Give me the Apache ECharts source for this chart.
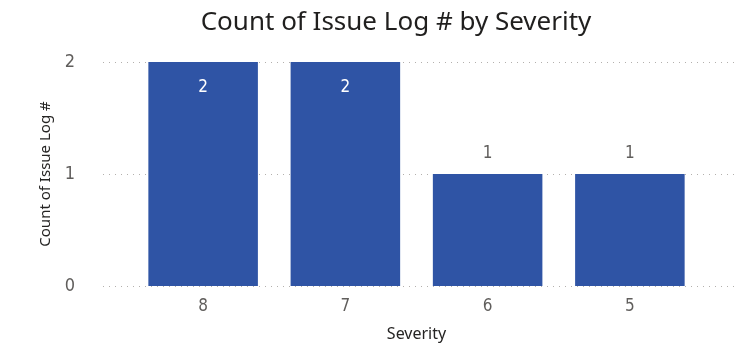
<!DOCTYPE html>
<html>
<head>
<meta charset="utf-8">
<script src="https://cdn.jsdelivr.net/npm/echarts@6/dist/echarts.min.js"></script>
<style>
  html, body { margin: 0; padding: 0; background: #fff; }
  #main { width: 744px; height: 347px; }
</style>
</head>
<body>
<div id="main"></div>
<script>
// severity categories and counts
var severities = ['8', '7', '6', '5'];
var counts = [2, 2, 1, 1];
var yTicks = [0, 1, 2];

var barColor = '#2F54A5';
var labelFont = '"Liberation Sans Narrow", "DejaVu Sans Condensed", sans-serif';
var textFont = '"Segoe UI", "Noto Sans", sans-serif';

var myChart = echarts.init(document.getElementById('main'));

// big bars get the label inside, small ones above (like Power BI auto)
var barData = counts.map(function (v) {
    if (v >= 2) {
        return {value: v, label: {position: 'insideTop', distance: 17, color: '#ffffff'}};
    }
    return {value: v, label: {position: 'top', distance: 12, color: '#605E5C'}};
});

var option = {
    animation: false,
    title: {
        text: 'Count of Issue Log # by Severity',
        left: 391,
        textAlign: 'center',
        top: 5,
        textStyle: {
            fontFamily: textFont,
            fontSize: 26,
            fontWeight: 'normal',
            color: '#201F1E'
        }
    },
    grid: [
        // wide grid only for the dotted lines and y labels
        {left: 103, right: 9, top: 62, bottom: 61},
        // bars
        {left: 132, right: 43, top: 62, bottom: 61}
    ],
    xAxis: [
        {gridIndex: 0, type: 'value', show: false, min: 0, max: 1},
        {
            gridIndex: 1,
            type: 'category',
            data: severities,
            axisLine: {show: false},
            axisTick: {show: false},
            axisLabel: {
                margin: 12,
                fontFamily: labelFont,
                fontSize: 17,
                color: '#605E5C'
            },
            name: 'Severity',
            nameLocation: 'middle',
            nameGap: 40,
            nameTextStyle: {
                fontFamily: textFont,
                fontSize: 16,
                color: '#252423'
            }
        }
    ],
    yAxis: [
        {
            gridIndex: 0,
            type: 'value',
            min: yTicks[0],
            max: yTicks[yTicks.length - 1],
            interval: 1,
            axisLine: {show: false},
            axisTick: {show: false},
            splitLine: {
                show: true,
                lineStyle: {type: [1, 5], color: '#B3B0AD', width: 1}
            },
            axisLabel: {
                margin: 28,
                fontFamily: labelFont,
                fontSize: 18,
                color: '#605E5C'
            },
            name: 'Count of Issue Log #',
            nameLocation: 'middle',
            nameGap: 50,
            nameRotate: 90,
            nameTextStyle: {
                fontFamily: textFont,
                fontSize: 15,
                color: '#252423'
            }
        },
        {gridIndex: 1, type: 'value', show: false, min: 0, max: 2}
    ],
    series: [
        {
            type: 'bar',
            xAxisIndex: 1,
            yAxisIndex: 1,
            data: barData,
            barCategoryGap: '23%',
            itemStyle: {color: barColor},
            label: {
                show: true,
                fontFamily: labelFont,
                fontSize: 17
            }
        }
    ]
};

myChart.setOption(option);
</script>
</body>
</html>
